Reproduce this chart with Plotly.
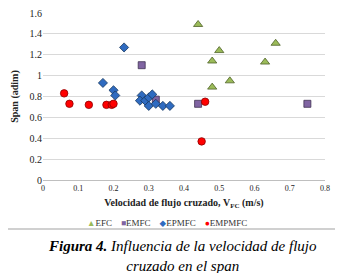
import plotly.graph_objects as go

efc_x = [0.44, 0.50, 0.48, 0.53, 0.48, 0.63, 0.66]
efc_y = [1.49, 1.24, 1.14, 0.95, 0.89, 1.13, 1.31]

emfc_x = [0.28, 0.44, 0.75, 0.32]
emfc_y = [1.10, 0.73, 0.73, 0.77]

epmfc_x = [0.23, 0.17, 0.20, 0.205, 0.28, 0.275, 0.29, 0.30, 0.31, 0.30, 0.32, 0.34, 0.36]
epmfc_y = [1.27, 0.93, 0.86, 0.81, 0.81, 0.76, 0.76, 0.79, 0.82, 0.71, 0.73, 0.71, 0.71]

empmfc_x = [0.06, 0.075, 0.13, 0.18, 0.195, 0.20, 0.46, 0.45]
empmfc_y = [0.83, 0.73, 0.72, 0.72, 0.72, 0.73, 0.75, 0.37]

series_names = ["EFC", "EMFC", "EPMFC", "EMPMFC"]
series_colors = ["#9BBB59", "#8064A2", "#2F6BC0", "#FF0000"]
series_glyphs = ["▲", "■", "◆", "●"]

x_ticks = [0, 0.1, 0.2, 0.3, 0.4, 0.5, 0.6, 0.7, 0.8]
x_labels = ["0", "0.1", "0.2", "0.3", "0.4", "0.5", "0.6", "0.7", "0.8"]
y_ticks = [0, 0.2, 0.4, 0.6, 0.8, 1.0, 1.2, 1.4, 1.6]
y_labels = ["0", "0.2", "0.4", "0.6", "0.8", "1", "1.2", "1.4", "1.6"]

serif = "Liberation Serif, DejaVu Serif, serif"

fig = go.Figure()
fig.add_trace(go.Scatter(x=efc_x, y=efc_y, mode="markers", name=series_names[0],
                         marker=dict(symbol="triangle-up", size=8, color=series_colors[0],
                                     line=dict(color="#4F6228", width=0.8))))
fig.add_trace(go.Scatter(x=emfc_x, y=emfc_y, mode="markers", name=series_names[1],
                         marker=dict(symbol="square", size=7, color=series_colors[1],
                                     line=dict(color="#3F3151", width=0.8))))
fig.add_trace(go.Scatter(x=epmfc_x, y=epmfc_y, mode="markers", name=series_names[2],
                         marker=dict(symbol="diamond", size=7, color=series_colors[2],
                                     line=dict(color="#17375E", width=0.8))))
fig.add_trace(go.Scatter(x=empmfc_x, y=empmfc_y, mode="markers", name=series_names[3],
                         marker=dict(symbol="circle", size=7.5, color=series_colors[3],
                                     line=dict(color="#8B0000", width=0.8))))

legend_text = "    ".join(
    f"<span style='color:{c};font-size:8.5px'>{g}</span>{n}"
    for n, c, g in zip(series_names, series_colors, series_glyphs)
)

fig.update_layout(
    width=343, height=273,
    margin=dict(l=35, r=26, t=5, b=101, autoexpand=False),
    paper_bgcolor="white", plot_bgcolor="white",
    font=dict(family=serif, size=10, color="#222"),
    showlegend=False,
    xaxis=dict(range=[0, 0.8], tickvals=x_ticks, ticktext=x_labels,
               showgrid=False, showline=True, linecolor="#BFBFBF", linewidth=1,
               ticks="", zeroline=False, tickfont=dict(family=serif, size=8),
               ticklabeloverflow="allow",
               title=dict(text="<b>Velocidad de flujo cruzado, V<sub>FC</sub> (m/s)</b>",
                          font=dict(family=serif, size=10), standoff=7)),
    yaxis=dict(range=[0, 1.6], tickvals=y_ticks, ticktext=y_labels,
               showgrid=True, gridcolor="#D9D9D9", gridwidth=1,
               showline=False, zeroline=False, ticks="", tickfont=dict(family=serif, size=10),
               ticklabeloverflow="allow",
               title=dict(text="<b>Span (adim)</b>", font=dict(family=serif, size=10), standoff=9)),
    shapes=[dict(type="rect", xref="paper", yref="paper",
                 x0=-0.3, x1=1.046, y0=-0.293, y1=1.2,
                 line=dict(color="#D0D0D0", width=2), fillcolor="rgba(0,0,0,0)", layer="below")],
    annotations=[
        dict(xref="paper", yref="paper", x=0.44, y=-0.257, yanchor="middle", showarrow=False,
             text=legend_text, font=dict(family=serif, size=9, color="#333")),
        dict(xref="paper", yref="paper", x=0.495, y=-0.338, yanchor="top", showarrow=False,
             align="center",
             text="<b><i>Figura 4.</i></b><i> Influencia de la velocidad de flujo<br>cruzado en el span</i>",
             font=dict(family=serif, size=15, color="#000"))
    ],
)

fig.write_html("out.html")
